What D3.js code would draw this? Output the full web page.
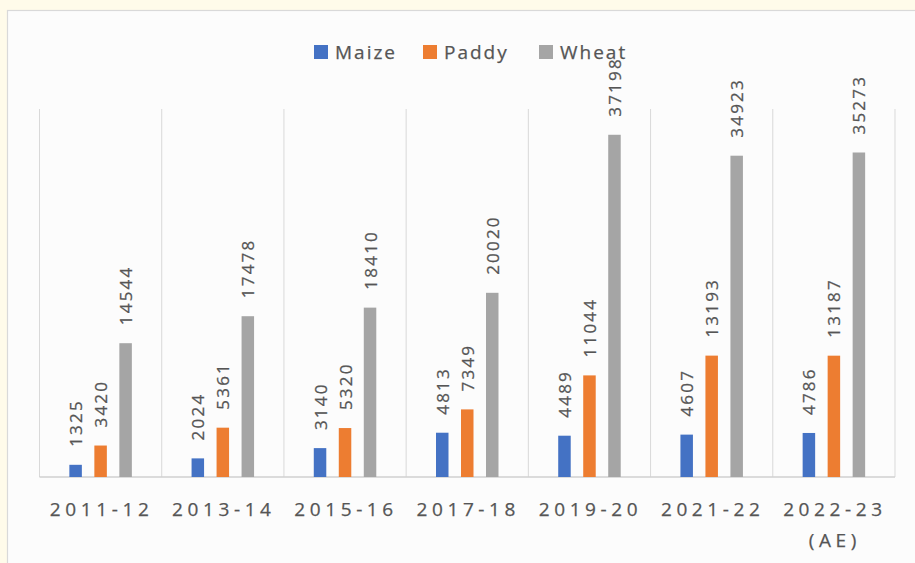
<!DOCTYPE html>
<html>
<head>
<meta charset="utf-8">
<script src="https://cdn.jsdelivr.net/npm/d3@7"></script>
<style>
  html, body { margin: 0; padding: 0; background: #fffbea; }
  svg { display: block; }
  text { font-family: "Open Sans", "Noto Sans", sans-serif; fill: #555555; stroke: #555555; stroke-width: 0.25px; }
</style>
</head>
<body>
<svg id="chart" width="915" height="563"></svg>
<script>
// ---- data ----
const categories = ["2011-12", "2013-14", "2015-16", "2017-18", "2019-20", "2021-22", "2022-23\n(AE)"];
const seriesNames = ["Maize", "Paddy", "Wheat"];
const maize = [1325, 2024, 3140, 4813, 4489, 4607, 4786];
const paddy = [3420, 5361, 5320, 7349, 11044, 13193, 13187];
const wheat = [14544, 17478, 18410, 20020, 37198, 34923, 35273];
const colors = ["#4472c4", "#ed7d31", "#a5a5a5"];
const yMax = 40000;

const series = [maize, paddy, wheat];

const svg = d3.select("#chart");

// chart area background / border
svg.append("rect")
  .attr("x", 7.5).attr("y", 10.5)
  .attr("width", 1000).attr("height", 1000)
  .attr("fill", "#fcfcfc")
  .attr("stroke", "#d9d9d9").attr("stroke-width", 1.2);

const plot = { left: 39.5, right: 895, top: 109, bottom: 477 };

const x = d3.scaleBand().domain(d3.range(categories.length))
  .range([plot.left, plot.right]).paddingInner(0).paddingOuter(0);
const y = d3.scaleLinear().domain([0, yMax]).range([plot.bottom, plot.top]);

const barW = 12.5;
const spacing = 25;
const offset = d3.scaleLinear().domain([0, 2]).range([-spacing, spacing]);

// vertical gridlines at category boundaries
const bounds = d3.range(categories.length + 1).map(i => i < categories.length ? x(i) : plot.right);
svg.append("g").selectAll("line").data(bounds).join("line")
  .attr("x1", d => d).attr("x2", d => d)
  .attr("y1", y(yMax)).attr("y2", plot.bottom)
  .attr("stroke", "#d9d9d9").attr("stroke-width", 1);

// baseline
svg.append("line")
  .attr("x1", plot.left).attr("x2", plot.right)
  .attr("y1", plot.bottom).attr("y2", plot.bottom)
  .attr("stroke", "#d0d0d0").attr("stroke-width", 1.5);

// bars and labels
series.forEach((vals, si) => {
  const g = svg.append("g");
  g.selectAll("rect").data(vals).join("rect")
    .attr("x", (d, i) => x(i) + x.bandwidth() / 2 + offset(si) - barW / 2)
    .attr("y", d => y(d))
    .attr("width", barW)
    .attr("height", d => plot.bottom - y(d))
    .attr("fill", colors[si]);
  g.selectAll("text").data(vals).join("text")
    .attr("transform", (d, i) => {
      const cx = x(i) + x.bandwidth() / 2 + offset(si) + 6.5;
      const cy = y(d) - 18;
      return `translate(${cx},${cy}) rotate(-90)`;
    })
    .attr("text-anchor", "start")
    .style("font-size", "17px")
    .style("letter-spacing", "2.2px")
    .text(d => d);
});

// category axis labels
const axisG = svg.append("g");
categories.forEach((c, i) => {
  const lines = c.split("\n");
  const t = axisG.append("text")
    .attr("y", 516)
    .attr("text-anchor", "middle")
    .style("font-size", "19px")
    .style("letter-spacing", "4.6px");
  lines.forEach((ln, k) => {
    t.append("tspan")
      .attr("x", x(i) + x.bandwidth() / 2 + 1)
      .attr("dy", k === 0 ? 0 : 31)
      .text(ln);
  });
});

// legend
const legendX = [314, 423, 539];
const legend = svg.append("g");
seriesNames.forEach((name, i) => {
  legend.append("rect")
    .attr("x", legendX[i]).attr("y", 45)
    .attr("width", 14).attr("height", 14)
    .attr("fill", colors[i]);
  legend.append("text")
    .attr("x", legendX[i] + 21).attr("y", 59)
    .style("font-size", "19px")
    .style("letter-spacing", "2px")
    .text(name);
});
</script>
</body>
</html>
